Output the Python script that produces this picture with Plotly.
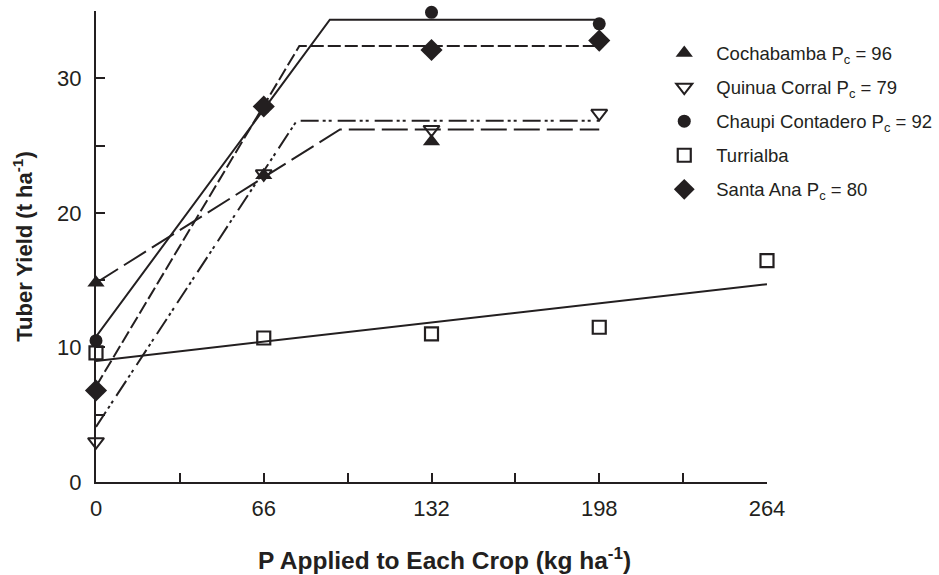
import plotly.graph_objects as go

# ---- data ----
p_levels = [0, 66, 132, 198]
turri_levels = [0, 66, 132, 198, 264]

coch_y = [14.8, 22.8, 25.3]          # Cochabamba (0, 66, 132)
coch_x = [0, 66, 132]
quin_y = [3.0, 22.9, 26.2, 27.4]     # Quinua Corral
chau_y = [10.5, 27.8, 34.9, 34.05]   # Chaupi Contadero
turr_y = [9.6, 10.7, 11.0, 11.5, 16.45]  # Turrialba
sant_y = [6.8, 27.9, 32.1, 32.8]     # Santa Ana

# fitted response lines (breakpoints)
coch_fit_x = [0, 96, 198]; coch_fit_y = [14.8, 26.2, 26.2]
quin_fit_x = [0, 79, 198]; quin_fit_y = [4.1, 26.85, 26.85]
chau_fit_x = [0, 92, 198]; chau_fit_y = [10.8, 34.35, 34.35]
turr_fit_x = [0, 264];     turr_fit_y = [9.0, 14.7]
sant_fit_x = [0, 80, 198]; sant_fit_y = [7.1, 32.4, 32.4]

names = ["Cochabamba P<sub>c</sub> = 96", "Quinua Corral P<sub>c</sub> = 79",
         "Chaupi Contadero P<sub>c</sub> = 92", "Turrialba", "Santa Ana P<sub>c</sub> = 80"]

x_title = "<b>P Applied to Each Crop (kg ha<sup>-1</sup>)</b>"
y_title = "<b>Tuber Yield (t ha<sup>-1</sup>)</b>"

INK = "#231f20"
fig = go.Figure()

# fitted lines
fits = [
    (coch_fit_x, coch_fit_y, "26px,7px"),
    (quin_fit_x, quin_fit_y, "18px,4px,3px,3px,3px,6px"),
    (chau_fit_x, chau_fit_y, "solid"),
    (turr_fit_x, turr_fit_y, "solid"),
    (sant_fit_x, sant_fit_y, "13px,4px"),
]
for fx, fy, dash in fits:
    fig.add_trace(go.Scatter(x=fx, y=fy, mode="lines", showlegend=False,
                             line=dict(color=INK, width=2, dash=dash),
                             hoverinfo="skip", cliponaxis=False))

# markers
markers = [
    (coch_x, coch_y, "triangle-up", 15, INK, 0),
    (p_levels, quin_y, "triangle-down-open", 14, INK, 2),
    (p_levels, chau_y, "circle", 13, INK, 0),
    (turri_levels, turr_y, "square-open", 13, INK, 2.2),
    (p_levels, sant_y, "diamond", 17, INK, 0),
]
for i, (mx, my, sym, sz, col, lw) in enumerate(markers):
    fig.add_trace(go.Scatter(
        x=mx, y=my, mode="markers", name=names[i], legendgroup=str(i),
        marker=dict(symbol=sym, size=sz, color=col,
                    line=dict(color=INK, width=lw)),
        cliponaxis=False))

axis_common = dict(
    showline=True, linecolor=INK, linewidth=2, showgrid=False, zeroline=False,
    ticks="inside", ticklen=9, tickwidth=2, tickcolor=INK,
    tickfont=dict(family="Liberation Sans, Arial", size=22, color=INK),
    layer="below traces",
)

fig.update_layout(
    width=939, height=575,
    margin=dict(l=96, r=172, t=11, b=93, autoexpand=False),
    plot_bgcolor="white", paper_bgcolor="white",
    font=dict(family="Liberation Sans, Arial", color=INK),
    xaxis=dict(range=[0, 264], tickvals=[0, 66, 132, 198, 264],
               minor=dict(tickvals=[33, 99, 165, 231], ticks="inside", ticklen=9,
                          tickwidth=2, tickcolor=INK),
               ticklabelstandoff=6,
               **axis_common),
    yaxis=dict(range=[0, 35], tickvals=[0, 10, 20, 30],
               minor=dict(tickvals=[5, 15, 25, 35], ticks="inside", ticklen=9,
                          tickwidth=2, tickcolor=INK),
               ticklabelstandoff=8,
               title=dict(text=y_title, font=dict(size=22, color=INK), standoff=18),
               **axis_common),
    legend=dict(x=0.829, y=0.95, xanchor="left", yanchor="top",
                font=dict(size=18.5, color=INK), itemwidth=54,
                tracegroupgap=7, bgcolor="rgba(0,0,0,0)"),
    annotations=[dict(text=x_title, xref="paper", yref="paper",
                      x=0.52, y=-0.163, xanchor="center", yanchor="middle",
                      showarrow=False, font=dict(size=24.5, color=INK))],
)

fig.write_html("out.html")
